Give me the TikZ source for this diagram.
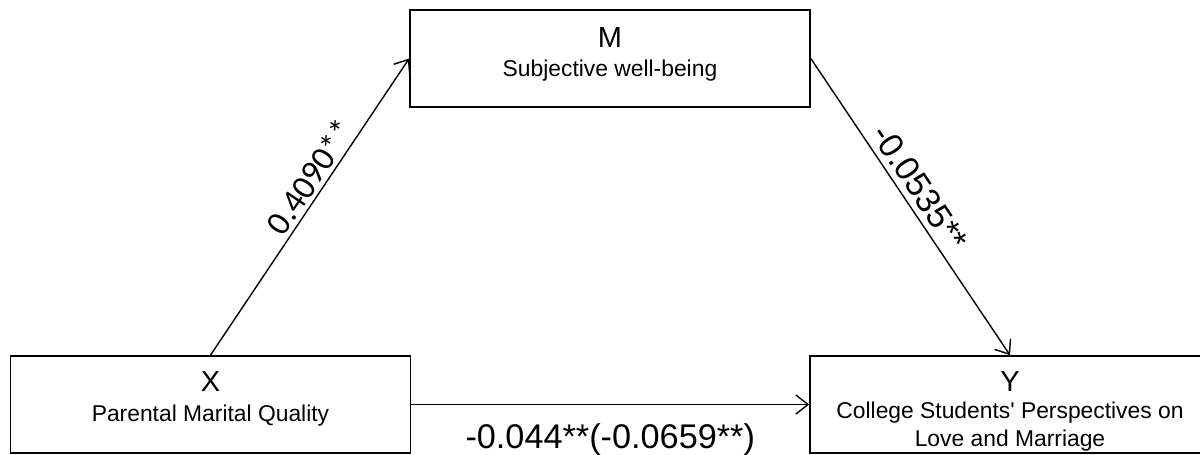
\documentclass[tikz,border=0pt]{standalone}
\usepackage{fontspec}
\setmainfont{Liberation Sans}
\newfontfamily\calibrifont{Carlito}
\usepackage{tikz}
\usetikzlibrary{arrows.meta, positioning}
\tikzstyle{box} = [rectangle, minimum width=8cm, minimum height=1.94cm, draw=black, line width=1pt]
\tikzstyle{letter} = [anchor=base, inner sep=0pt, font=\fontsize{16.5}{20}\selectfont]
\tikzstyle{desc} = [anchor=base, inner sep=0pt, align=center, font=\fontsize{13}{15.9}\selectfont]
\tikzstyle{arrow} = [line width=0.8pt, -{Straight Barb[length=7pt, width=11pt]}]
\tikzstyle{coef} = [font=\fontsize{19.5}{22}\selectfont]

\begin{document}
\begin{tikzpicture}[x=0.02cm, y=-0.02cm]
\clip (0,0) rectangle (1200,454);
\node(M) [box] at (610,58.5) {};
\node(X) [box] at (210.5,404.5) {};
\node(Y) [box] at (1010,404.5) {};

\node(M_letter) [letter] at ([yshift=-0.76cm]M.north) {M};
\node(M_desc) [desc] at ([yshift=-1.34cm]M.north) {Subjective well-being};
\node(X_letter) [letter] at ([yshift=-0.72cm]X.north) {X};
\node(X_desc) [desc] at ([yshift=-1.32cm]X.north) {Parental Marital Quality};
\node(Y_letter) [letter] at ([yshift=-0.72cm]Y.north) {Y};
\node(Y_desc) [desc] at ([yshift=-1.82cm]Y.north) {College Students\textquotesingle{} Perspectives on\\Love and Marriage};

\draw[arrow] (X.north) -- node[coef, above, sloped, pos=0.57, inner sep=2pt] {\calibrifont 0.4090**} (M.west);
\draw[arrow] (M.east) -- node[coef, above, sloped, pos=0.47] {-0.0535**} (Y.north);
\draw[arrow] (X.east) -- node[coef, below, midway, yshift=-0.26cm] {-0.044**(-0.0659**)} (Y.west);
\end{tikzpicture}
\end{document}
